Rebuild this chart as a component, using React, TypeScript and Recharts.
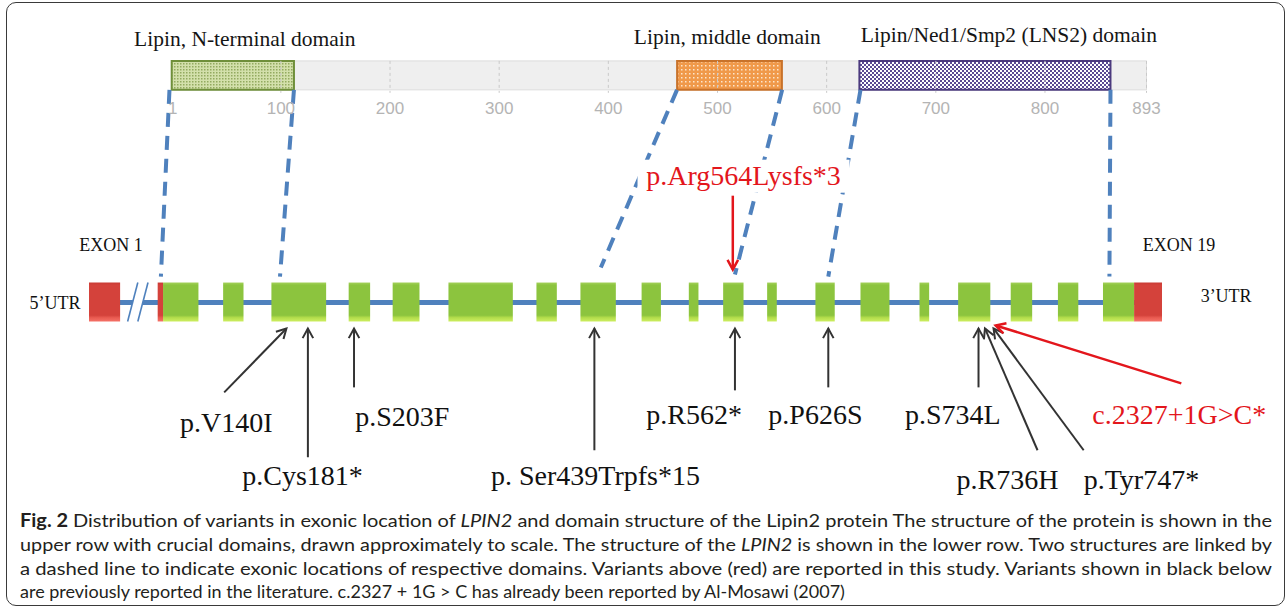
import React from "react";
import { ComposedChart, XAxis, YAxis, ReferenceArea, ReferenceLine, ReferenceDot, Scatter } from "recharts";

// ---------------- data ----------------
// Protein (amino-acid positions)
const PROTEIN_LENGTH = 893;
const PROTEIN_TICKS = [1, 100, 200, 300, 400, 500, 600, 700, 800, 893];
const GRID_TICKS = [100, 200, 300, 400, 500, 600, 700, 800, 893];
const DOMAIN_NAMES = ["Lipin, N-terminal domain", "Lipin, middle domain", "Lipin/Ned1/Smp2 (LNS2) domain"];
const DOMAIN_START = [0, 463, 630];
const DOMAIN_END = [112, 559, 860];
const DOMAIN_TITLE_AT = [67, 509, 767];

// Gene track (percent of the drawn track, 5'UTR start = 0, 3'UTR end = 100)
const EXON_NAMES = Array.from({ length: 19 }, (_, i) => `Exon ${i + 1}`);
const EXON_START = [6.9, 12.5, 17.0, 24.2, 28.3, 33.5, 41.7, 45.8, 51.5, 55.9, 59.1, 63.2, 67.7, 71.9, 77.4, 81.0, 85.9, 90.3, 94.5];
const EXON_END = [10.2, 14.4, 22.1, 26.2, 30.8, 39.5, 43.6, 49.1, 53.3, 56.8, 61.0, 64.1, 69.5, 74.6, 78.3, 84.0, 87.9, 92.2, 97.4];
const UTR_START = [0, 6.4, 97.4];
const UTR_END = [2.9, 6.9, 100];
const BREAK_RANGE = [3.6, 5.5];

// Domain -> exon connectors (gene-track units, top end / bottom end)
const LINK_TOP = [7.5, 19.1, 54.8, 64.6, 71.9, 95.2];
const LINK_BOTTOM = [6.7, 17.8, 47.7, 60.2, 68.9, 95.1];

// Previously reported variants (black)
const LIT_VARIANTS = ["p.V140I", "p.Cys181*", "p.S203F", "p. Ser439Trpfs*15", "p.R562*", "p.P626S", "p.S734L", "p.R736H", "p.Tyr747*"];
const LIT_TIP = [18.4, 20.4, 24.7, 47.1, 60.2, 68.9, 82.9, 83.5, 84.3];
const LIT_TAIL = [12.6, 20.4, 24.7, 47.1, 60.2, 68.9, 82.9, 88.4, 92.7];

// Variants from this study (red)
const NEW_VARIANTS = ["p.Arg564Lysfs*3", "c.2327+1G>C*"];
const NEW_TIP = [60.0, 84.5];
const NEW_TAIL = [60.0, 101.8];

const CAPTION_LINES = [
  "Distribution of variants in exonic location of |LPIN2| and domain structure of the Lipin2 protein The structure of the protein is shown in the",
  "upper row with crucial domains, drawn approximately to scale. The structure of the |LPIN2| is shown in the lower row. Two structures are linked by",
  "a dashed line to indicate exonic locations of respective domains. Variants above (red) are reported in this study. Variants shown in black below",
  "are previously reported in the literature. c.2327 + 1G > C has already been reported by Al-Mosawi (2007)",
];

// ---------------- layout / style ----------------
const W = 1287;
const H = 613;
const SERIF = "'Liberation Serif', 'Times New Roman', serif";
const SANS = "'Liberation Sans', Arial, sans-serif";
const BLUE = "#4f81bd";
const RED = "#e3161c";
const INK = "#333333";

const BAR_TOP = 60;
const BAR_BOTTOM = 89;
const TICK_BASE = 114;
const TITLE_BASE = [45, 43, 41];
const EXON_TOP = 282;
const EXON_BOTTOM = 321;
const LINE_Y = 302;
const LINK_END_Y = [276, 276, 267, 274, 276, 276];
const TIP_Y = 328;
const LIT_TAIL_Y = [392, 457, 387, 450, 390, 387, 387, 450, 450];
const LIT_LABEL_X = [12.8, 19.9, 29.2, 47.2, 56.4, 67.7, 80.5, 85.6, 92.7];
const LIT_LABEL_ANCHOR = ["middle", "middle", "middle", "middle", "middle", "middle", "middle", "middle", "start"];
const LIT_LABEL_Y = [432, 485, 426, 485, 424, 424, 424, 489, 489];
const NEW_TAIL_Y = [195, 383];
const NEW_TIP_Y = [269, 325];
const NEW_LABEL_X = [61.0, 93.5];
const NEW_LABEL_ANCHOR = ["middle", "start"];
const NEW_LABEL_Y = [184, 424];
const NEW_LABEL_BOX = [true, false];
const DOMAIN_FILL = ["url(#patNterm)", "url(#patMiddle)", "url(#patLns2)"];
const DOMAIN_STROKE = ["#6f8f3a", "#c8722a", "#4b3a7e"];

// table for the label series (built from the arrays above)
const LABEL_ROWS = [
  ...LIT_VARIANTS.map((name, i) => ({ name, gx: LIT_LABEL_X[i], gy: LIT_LABEL_Y[i], anchor: LIT_LABEL_ANCHOR[i], color: "#111111", box: false })),
  ...NEW_VARIANTS.map((name, i) => ({ name, gx: NEW_LABEL_X[i], gy: NEW_LABEL_Y[i], anchor: NEW_LABEL_ANCHOR[i], color: RED, box: NEW_LABEL_BOX[i] })),
];

const arrowShape = (color: string, width: number) => (p: any) => {
  const { x1, y1, x2, y2 } = p;
  const ang = Math.atan2(y2 - y1, x2 - x1);
  const L = 11;
  const A = 0.5;
  const hx1 = x2 - L * Math.cos(ang - A);
  const hy1 = y2 - L * Math.sin(ang - A);
  const hx2 = x2 - L * Math.cos(ang + A);
  const hy2 = y2 - L * Math.sin(ang + A);
  return (
    <g>
      <line x1={x1} y1={y1} x2={x2} y2={y2} stroke={color} strokeWidth={width} />
      <polyline points={`${hx1},${hy1} ${x2},${y2} ${hx2},${hy2}`} fill="none" stroke={color} strokeWidth={width} />
    </g>
  );
};

const textShape = (label: string, opts: any) => (p: any) => (
  <text x={p.cx} y={p.cy} {...opts}>
    {label}
  </text>
);

const labelShape = (p: any) => (
  <g>
    {p.payload.box ? <rect x={p.cx - 106} y={p.cy - 25} width={212} height={33} fill="#ffffff" /> : null}
    <text x={p.cx} y={p.cy} textAnchor={p.payload.anchor} fontFamily={SERIF} fontSize={28} fill={p.payload.color}>
      {p.payload.name}
    </text>
  </g>
);

const breakShape = (p: any) => {
  const { x, y, width, height } = p;
  const s = width * 0.5;
  return (
    <g>
      <polygon points={`${x},${y + height} ${x + s},${y} ${x + width},${y} ${x + width - s},${y + height}`} fill="#ffffff" />
      <line x1={x} y1={y + height} x2={x + s} y2={y} stroke={BLUE} strokeWidth={1.6} />
      <line x1={x + width - s} y1={y + height} x2={x + width} y2={y} stroke={BLUE} strokeWidth={1.6} />
    </g>
  );
};

const tickShape = (p: any) => (
  <text x={p.x} y={TICK_BASE} textAnchor="middle" fontFamily={SANS} fontSize={17} fill="#b4b4b4">
    {p.payload.value}
  </text>
);

function renderCaption(line: string, i: number) {
  const parts = line.split("|");
  const justify = i < 3;
  return (
    <text
      key={i}
      x={20}
      y={[527, 551, 575, 598][i]}
      fontFamily="Lato, 'Noto Sans', sans-serif"
      fontSize={18}
      fill="#231f20"
      {...(justify ? { textLength: 1252, lengthAdjust: "spacingAndGlyphs" } : {})}
    >
      {i === 0 ? <tspan fontWeight={700}>Fig. 2 </tspan> : null}
      {parts.map((t, k) => (k % 2 === 1 ? <tspan key={k} fontStyle="italic">{t}</tspan> : <tspan key={k}>{t}</tspan>))}
    </text>
  );
}

export default function App() {
  return (
    <div style={{ position: "absolute", left: 0, top: 0, width: W, height: H, background: "#ffffff", overflow: "hidden" }}>
      <svg width={0} height={0} style={{ position: "absolute" }}>
        <defs>
          <pattern id="patNterm" width="3" height="3" patternUnits="userSpaceOnUse">
            <rect width="3" height="3" fill="#d3e0ab" />
            <rect width="1.5" height="1.5" fill="#93aa60" />
          </pattern>
          <pattern id="patMiddle" width="4" height="4" patternUnits="userSpaceOnUse">
            <rect width="4" height="4" fill="#f0994a" />
            <rect x="1" y="1" width="1.5" height="1.5" fill="#fde6cc" />
          </pattern>
          <pattern id="patLns2" width="4" height="4" patternUnits="userSpaceOnUse">
            <rect width="4" height="4" fill="#ffffff" />
            <rect width="2" height="2" fill="#5b4a93" />
            <rect x="2" y="2" width="2" height="2" fill="#5b4a93" />
          </pattern>
          <linearGradient id="exonGreen" x1="0" y1="0" x2="0" y2="1">
            <stop offset="0" stopColor="#a3d15a" />
            <stop offset="0.07" stopColor="#8cc43e" />
            <stop offset="0.84" stopColor="#8cc43e" />
            <stop offset="0.9" stopColor="#b2dc4b" />
            <stop offset="1" stopColor="#cdee60" />
          </linearGradient>
          <linearGradient id="exonRed" x1="0" y1="0" x2="0" y2="1">
            <stop offset="0" stopColor="#c93a34" />
            <stop offset="0.07" stopColor="#d4423b" />
            <stop offset="0.84" stopColor="#d4423b" />
            <stop offset="0.9" stopColor="#e85a50" />
            <stop offset="1" stopColor="#f57167" />
          </linearGradient>
        </defs>
      </svg>

      <ComposedChart width={W} height={H} data={LABEL_ROWS} margin={{ top: 0, right: 0, bottom: 0, left: 0 }}>
        <XAxis
          xAxisId="aa"
          dataKey="aa"
          type="number"
          orientation="top"
          domain={[0, PROTEIN_LENGTH]}
          allowDataOverflow
          padding={{ left: 171.7, right: 140.5 }}
          ticks={PROTEIN_TICKS}
          interval={0}
          height={1}
          axisLine={false}
          tickLine={false}
          tick={tickShape}
        />
        <XAxis xAxisId="gene" dataKey="gx" type="number" domain={[0, 100]} hide padding={{ left: 89, right: 125 }} />
        <YAxis yAxisId="y" dataKey="gy" type="number" domain={[0, H]} reversed hide />

        {/* protein bar */}
        <ReferenceArea xAxisId="aa" yAxisId="y" x1={0} x2={PROTEIN_LENGTH} y1={BAR_TOP} y2={BAR_BOTTOM} fill="#efefef" fillOpacity={1} stroke="#dcdcdc" strokeWidth={1} ifOverflow="visible" />
        {GRID_TICKS.map((t) => (
          <ReferenceLine
            key={`g${t}`}
            xAxisId="aa"
            yAxisId="y"
            ifOverflow="visible"
            segment={[{ x: t, y: BAR_TOP }, { x: t, y: BAR_BOTTOM + 3 }]}
            stroke="#c9c9c9"
            strokeWidth={1}
            strokeDasharray="3 3"
          />
        ))}
        {DOMAIN_NAMES.map((n, i) => (
          <ReferenceArea
            key={n}
            xAxisId="aa"
            yAxisId="y"
            ifOverflow="visible"
            x1={DOMAIN_START[i]}
            x2={DOMAIN_END[i]}
            y1={BAR_TOP}
            y2={BAR_BOTTOM}
            fill={DOMAIN_FILL[i]}
            fillOpacity={1}
            stroke={DOMAIN_STROKE[i]}
            strokeWidth={2}
          />
        ))}
        {DOMAIN_NAMES.map((n, i) => (
          <ReferenceDot
            key={`t${n}`}
            xAxisId="aa"
            yAxisId="y"
            x={DOMAIN_TITLE_AT[i]}
            y={TITLE_BASE[i]}
            r={0}
            ifOverflow="visible"
            shape={textShape(n, { textAnchor: "middle", fontFamily: SERIF, fontSize: 21.5, fill: "#151515" })}
          />
        ))}

        {/* connectors */}
        {LINK_TOP.map((t, i) => (
          <ReferenceLine
            key={`l${i}`}
            xAxisId="gene"
            yAxisId="y"
            ifOverflow="visible"
            segment={[{ x: t, y: BAR_BOTTOM }, { x: LINK_BOTTOM[i], y: LINK_END_Y[i] }]}
            stroke={BLUE}
            strokeWidth={4}
            strokeDasharray="14 9"
          />
        ))}

        {/* gene track */}
        <ReferenceArea xAxisId="gene" yAxisId="y" ifOverflow="visible" x1={0} x2={100} y1={LINE_Y - 2.5} y2={LINE_Y + 2.5} fill={BLUE} fillOpacity={1} />
        <ReferenceArea xAxisId="gene" yAxisId="y" ifOverflow="visible" x1={BREAK_RANGE[0]} x2={BREAK_RANGE[1]} y1={EXON_TOP} y2={EXON_BOTTOM} shape={breakShape} />
        {EXON_NAMES.map((n, i) => (
          <ReferenceArea key={n} xAxisId="gene" yAxisId="y" ifOverflow="visible" x1={EXON_START[i]} x2={EXON_END[i]} y1={EXON_TOP} y2={EXON_BOTTOM} fill="url(#exonGreen)" fillOpacity={1} />
        ))}
        {UTR_START.map((s, i) => (
          <ReferenceArea key={`u${i}`} xAxisId="gene" yAxisId="y" ifOverflow="visible" x1={s} x2={UTR_END[i]} y1={EXON_TOP} y2={EXON_BOTTOM} fill="url(#exonRed)" fillOpacity={1} />
        ))}

        <ReferenceDot xAxisId="gene" yAxisId="y" x={5.0} y={250} r={0} ifOverflow="visible" shape={textShape("EXON 1", { textAnchor: "end", fontFamily: SERIF, fontSize: 18, fill: "#111" })} />
        <ReferenceDot xAxisId="gene" yAxisId="y" x={98.2} y={250} r={0} ifOverflow="visible" shape={textShape("EXON 19", { textAnchor: "start", fontFamily: SERIF, fontSize: 18, fill: "#111" })} />
        <ReferenceDot xAxisId="gene" yAxisId="y" x={-0.8} y={309} r={0} ifOverflow="visible" shape={textShape("5\u2019UTR", { textAnchor: "end", fontFamily: SERIF, fontSize: 18, fill: "#111" })} />
        <ReferenceDot xAxisId="gene" yAxisId="y" x={103.6} y={301} r={0} ifOverflow="visible" shape={textShape("3\u2019UTR", { textAnchor: "start", fontFamily: SERIF, fontSize: 18, fill: "#111" })} />

        {/* arrows: literature variants */}
        {LIT_VARIANTS.map((v, i) => (
          <ReferenceLine
            key={`a${v}`}
            xAxisId="gene"
            yAxisId="y"
            ifOverflow="visible"
            segment={[{ x: LIT_TAIL[i], y: LIT_TAIL_Y[i] }, { x: LIT_TIP[i], y: TIP_Y }]}
            shape={arrowShape(INK, 2)}
          />
        ))}
        {/* arrows: this study */}
        {NEW_VARIANTS.map((v, i) => (
          <ReferenceLine
            key={`n${v}`}
            xAxisId="gene"
            yAxisId="y"
            ifOverflow="visible"
            segment={[{ x: NEW_TAIL[i], y: NEW_TAIL_Y[i] }, { x: NEW_TIP[i], y: NEW_TIP_Y[i] }]}
            shape={arrowShape(RED, 2.5)}
          />
        ))}

        {/* variant labels */}
        <Scatter xAxisId="gene" yAxisId="y" data={LABEL_ROWS} dataKey="gy" shape={labelShape} isAnimationActive={false} />
      </ComposedChart>

      <svg width={W} height={H} style={{ position: "absolute", left: 0, top: 0, pointerEvents: "none" }}>
        {CAPTION_LINES.map(renderCaption)}
      </svg>
      <div
        style={{
          position: "absolute",
          left: 6,
          top: 2,
          width: 1279,
          height: 604,
          border: "1.5px solid #3a3a3a",
          borderRadius: 10,
          boxSizing: "border-box",
          pointerEvents: "none",
        }}
      />
    </div>
  );
}
